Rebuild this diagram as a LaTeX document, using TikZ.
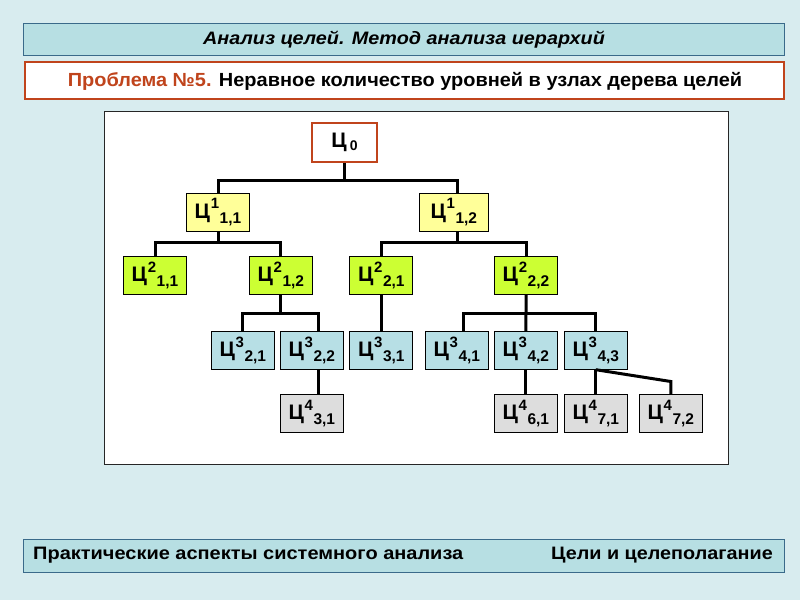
\documentclass[tikz,border=0pt]{standalone}
\usepackage{fontspec}
\setmainfont{Liberation Sans}
\usetikzlibrary{calc}
\definecolor{bgc}{HTML}{D8ECEF}
\definecolor{hdrfill}{HTML}{B7DFE3}
\definecolor{hdrline}{HTML}{3A6A8A}
\definecolor{probred}{HTML}{C0441C}
\definecolor{lvA}{HTML}{FFFF99}
\definecolor{lvB}{HTML}{CCFF33}
\definecolor{lvC}{HTML}{B7DFE5}
\definecolor{lvD}{HTML}{DDDDDD}
\newcommand{\goal}[3]{{\fontsize{21}{21}\selectfont Ц}\kern0.8pt\raisebox{9.5pt}{\fontsize{15}{15}\selectfont #1}\kern0.5pt\raisebox{-5pt}{\fontsize{15.5}{15.5}\selectfont #2,#3}}
\tikzset{
  goalbox/.style={draw=black, line width=0.8pt, inner sep=0pt, minimum width=63pt, minimum height=37.6pt, font=\bfseries},
  levA/.style={goalbox, fill=lvA},
  levB/.style={goalbox, fill=lvB},
  levC/.style={goalbox, fill=lvC},
  levD/.style={goalbox, fill=lvD},
  conn/.style={draw=black, line width=3pt},
  hdrbox/.style={draw=hdrline, line width=0.8pt, fill=hdrfill, inner sep=0pt},
}
\begin{document}
\begin{tikzpicture}[x=1pt,y=-1pt]
\useasboundingbox (0,0) rectangle (800,600);
\fill[bgc] (0,0) rectangle (800,600);
% header
\node[hdrbox, minimum width=761pt, minimum height=32.4pt] (hdr) at (403.5,39.5) {};
\node[font=\bfseries\itshape\fontsize{18}{18}\selectfont] (hdrt) at (404,40) {\scalebox{1.1}[1]{Анализ целей. Метод анализа иерархий}};
% problem
\node[draw=probred, line width=2.2pt, fill=white, minimum width=759pt, minimum height=37.6pt, inner sep=0pt] (prob) at (404.5,80.5) {};
\node[font=\bfseries\fontsize{19}{19}\selectfont] (probt) at (405,81) {\scalebox{1.05}[1]{\textcolor{probred}{Проблема №5.} Неравное количество уровней в узлах дерева целей}};
% panel
\node[draw=black!85, line width=0.8pt, fill=white, minimum width=624pt, minimum height=353pt, inner sep=0pt] (panel) at (416.3,287.5) {};
% footer
\node[hdrbox, minimum width=761pt, minimum height=32.4pt] (ftr) at (403.5,556) {};
\node[font=\bfseries\fontsize{18}{18}\selectfont, anchor=west, inner sep=0pt] (ftl) at (33,555) {\scalebox{1.11}[1]{Практические аспекты системного анализа}};
\node[font=\bfseries\fontsize{18}{18}\selectfont, anchor=east, inner sep=0pt] (ftr2) at (773,555) {\scalebox{1.1}[1]{Цели и целеполагание}};
% tree nodes
\node[draw=probred, line width=2pt, fill=white, minimum width=65pt, minimum height=39pt, inner sep=0pt, font=\bfseries] (g0) at (344.5,142.5) {{\fontsize{21}{21}\selectfont Ц}\kern3pt\raisebox{-2.5pt}{\fontsize{14}{14}\selectfont 0}};
\node[levA] (a11) at (218,212.2) {\goal{1}{1}{1}};
\node[levA, minimum width=69pt] (a12) at (453.8,212.2) {\goal{1}{1}{2}};
\node[levB] (b211) at (155,275.5) {\goal{2}{1}{1}};
\node[levB] (b212) at (280.8,275.5) {\goal{2}{1}{2}};
\node[levB] (b221) at (381.3,275.5) {\goal{2}{2}{1}};
\node[levB] (b222) at (526,275.5) {\goal{2}{2}{2}};
\node[levC] (c321) at (242.8,350.5) {\goal{3}{2}{1}};
\node[levC] (c322) at (311.8,350.5) {\goal{3}{2}{2}};
\node[levC] (c331) at (381.3,350.5) {\goal{3}{3}{1}};
\node[levC] (c341) at (456.8,350.5) {\goal{3}{4}{1}};
\node[levC] (c342) at (525.8,350.5) {\goal{3}{4}{2}};
\node[levC] (c343) at (595.8,350.5) {\goal{3}{4}{3}};
\node[levD] (d431) at (311.8,413.3) {\goal{4}{3}{1}};
\node[levD] (d461) at (525.8,413.3) {\goal{4}{6}{1}};
\node[levD] (d471) at (595.8,413.3) {\goal{4}{7}{1}};
\node[levD] (d472) at (670.8,413.3) {\goal{4}{7}{2}};
% junctions
\coordinate (j0) at (344.5,180);
\coordinate (jA) at (218,242.7);
\coordinate (jB) at (457,242.7);
\coordinate (jC) at (280.8,313);
\coordinate (jD) at (526,313.3);
\coordinate (a12t) at ([xshift=3.2pt]a12.north);
\coordinate (a12b) at ([xshift=3.2pt]a12.south);
\coordinate (c322t) at ([xshift=7pt]c322.north);
\coordinate (c322b) at ([xshift=7pt]c322.south);
\coordinate (c341t) at ([xshift=6.5pt]c341.north);
\coordinate (d472k) at ([yshift=12.6pt]d472.north);
% connectors
\draw[conn] (g0.south) -- (j0);
\draw[conn] (a11.north) |- (j0) -| (a12t);
\draw[conn] (a11.south) -- (jA);
\draw[conn] (b211.north) |- (jA) -| (b212.north);
\draw[conn] (a12b) -- (jB);
\draw[conn] (b221.north) |- (jB) -| (b222.north);
\draw[conn] (b212.south) -- (jC);
\draw[conn] (c321.north) |- (jC) -| (c322t);
\draw[conn] (b221.south) -- (c331.north);
\draw[conn] (b222.south) -- (jD) -- (c342.north);
\draw[conn] (c341t) |- (jD) -| (c343.north);
\draw[conn] (c322b) -- (c322b |- d431.north);
\draw[conn] (c342.south) -- (d461.north);
\draw[conn] (c343.south) -- (d471.north);
\draw[conn] (c343.south) -- (d472k) -- (d472.north);
\end{tikzpicture}
\end{document}
